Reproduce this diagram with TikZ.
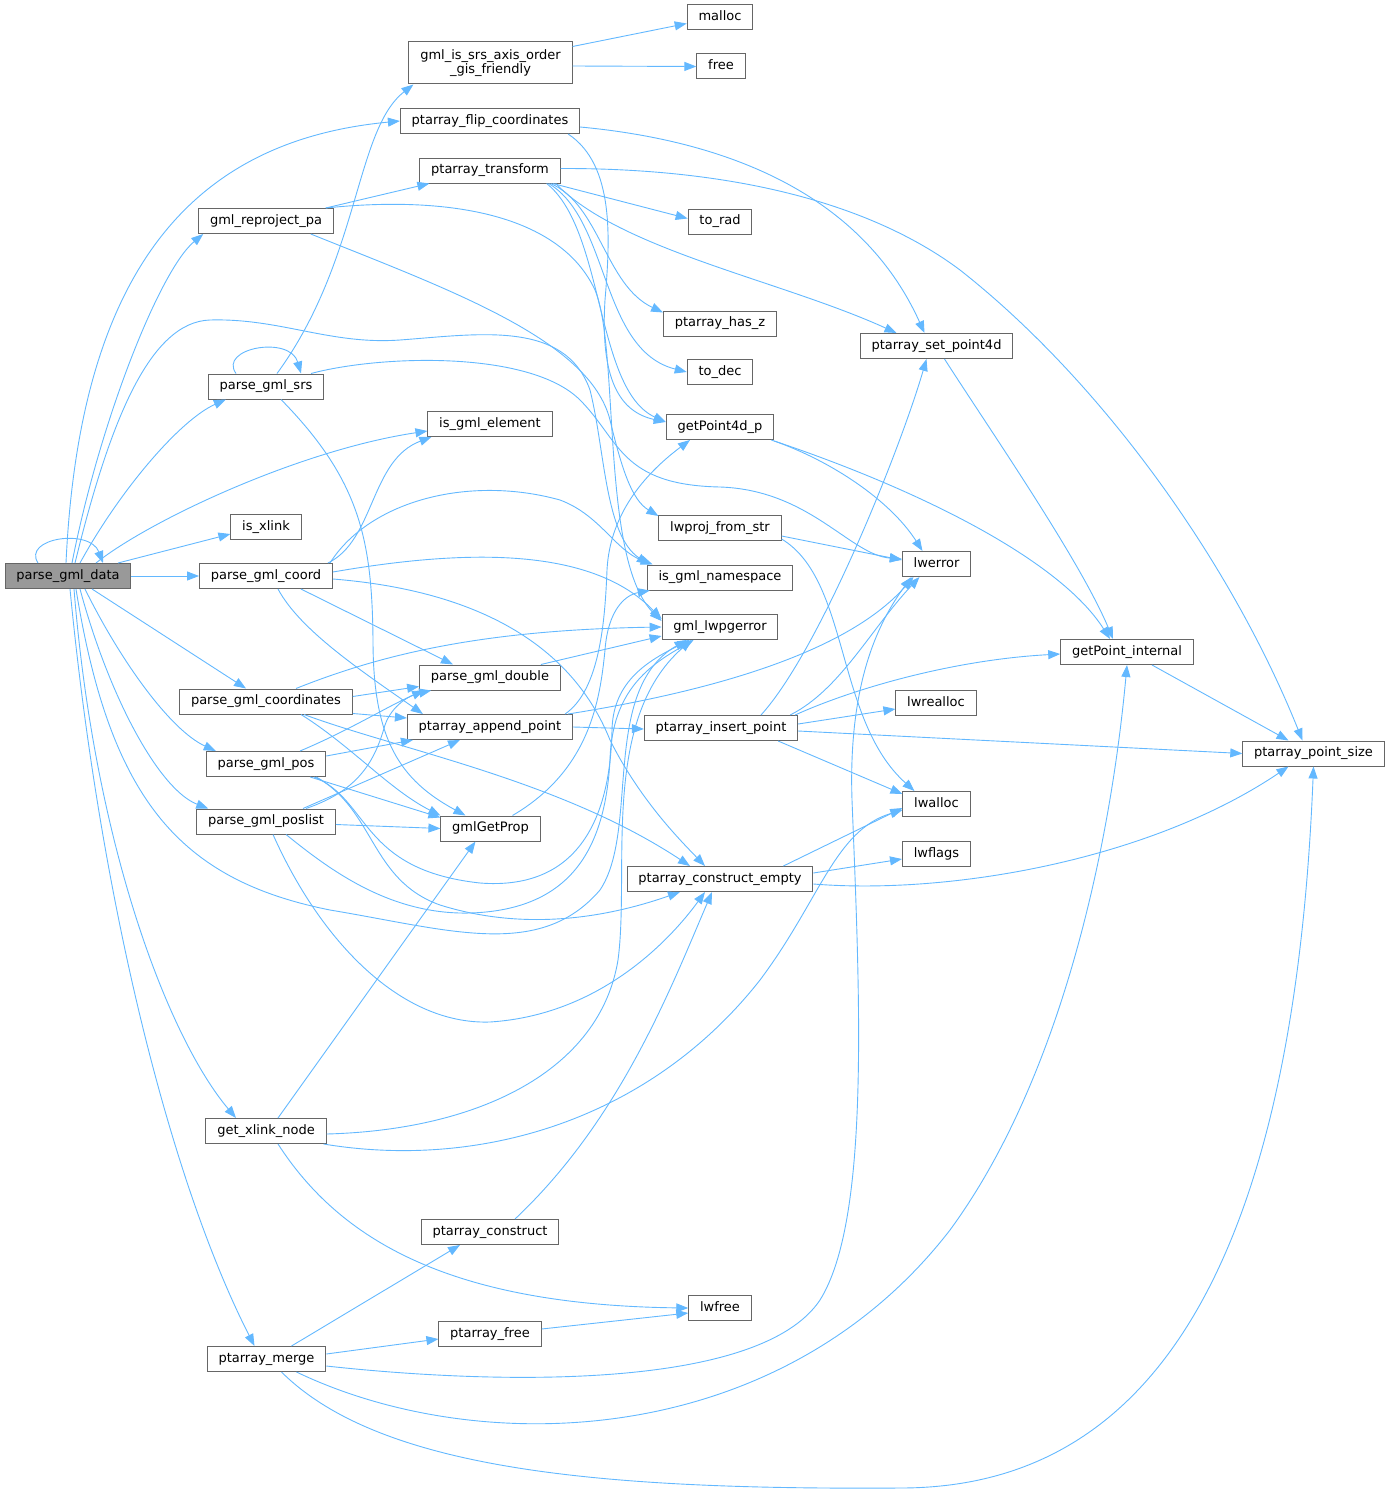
\documentclass[tikz,border=0pt]{standalone}
\usepackage{fontspec}
\setmainfont{DejaVu Sans}
\usetikzlibrary{arrows.meta}
\definecolor{edgeblue}{HTML}{63B8FF}
\definecolor{boxgray}{HTML}{666666}
\definecolor{rootgray}{HTML}{999999}

\begin{document}
\begin{tikzpicture}[x=1pt,y=-1pt,
    fn/.style={draw=boxgray, fill=white, line width=1pt, inner xsep=11.3pt, inner ysep=0pt,
      minimum height=25pt, text height=9.6pt, text depth=3pt, font=\fontsize{13}{14.5}\selectfont},
    rootfn/.style={fn, fill=rootgray},
    call/.style={draw=edgeblue, line width=0.9pt, -{Triangle[length=12pt,width=9pt]}}]
    \useasboundingbox (0,0) rectangle (1391,1493);

    % functions
    \node[rootfn] (pgd) at (68,576) {parse\_gml\_data};
    \node[fn, align=center, minimum height=42pt, text height=24.1pt, text depth=3pt] (gisf) at (490.5,63) {gml\_is\_srs\_axis\_order\\\_gis\_friendly};
    \node[fn] (malloc) at (720,17.5) {malloc};
    \node[fn] (free) at (721,66.5) {free};
    \node[fn] (flip) at (490,121) {ptarray\_flip\_coordinates};
    \node[fn] (ptransf) at (490,170.5) {ptarray\_transform};
    \node[fn] (reproj) at (266,221) {gml\_reproject\_pa};
    \node[fn] (torad) at (720,221.5) {to\_rad};
    \node[fn] (hasz) at (720,323.5) {ptarray\_has\_z};
    \node[fn] (setpt) at (936.5,346) {ptarray\_set\_point4d};
    \node[fn] (srs) at (266,386.5) {parse\_gml\_srs};
    \node[fn] (todec) at (720,372) {to\_dec};
    \node[fn] (isgelem) at (490,424) {is\_gml\_element};
    \node[fn] (getpt4d) at (720,427) {getPoint4d\_p};
    \node[fn] (isxlink) at (266,527) {is\_xlink};
    \node[fn] (lwproj) at (720,528) {lwproj\_from\_str};
    \node[fn] (lwerror) at (936.5,564) {lwerror};
    \node[fn] (coord) at (266,576) {parse\_gml\_coord};
    \node[fn] (isgns) at (720,577.5) {is\_gml\_namespace};
    \node[fn] (gmlerr) at (720,627) {gml\_lwpgerror};
    \node[fn] (getptint) at (1127,652) {getPoint\_internal};
    \node[fn] (pdouble) at (490,677.5) {parse\_gml\_double};
    \node[fn] (coords) at (266,701.5) {parse\_gml\_coordinates};
    \node[fn] (appendpt) at (490,727) {ptarray\_append\_point};
    \node[fn] (insertpt) at (721,728) {ptarray\_insert\_point};
    \node[fn] (lwrealloc) at (936,703) {lwrealloc};
    \node[fn] (ptsize) at (1313.5,753.5) {ptarray\_point\_size};
    \node[fn] (pos) at (266,764) {parse\_gml\_pos};
    \node[fn] (lwalloc) at (936.5,804) {lwalloc};
    \node[fn] (poslist) at (266,821.5) {parse\_gml\_poslist};
    \node[fn] (getprop) at (490.5,828.5) {gmlGetProp};
    \node[fn] (lwflags) at (936.5,854) {lwflags};
    \node[fn] (cempty) at (720,879) {ptarray\_construct\_empty};
    \node[fn] (xlinknode) at (266,1131) {get\_xlink\_node};
    \node[fn] (construct) at (490,1232) {ptarray\_construct};
    \node[fn] (lwfree) at (720,1308) {lwfree};
    \node[fn] (pfree) at (490,1334) {ptarray\_free};
    \node[fn] (merge) at (266.5,1359) {ptarray\_merge};

    % calls of parse_gml_data
    \draw[call] ([xshift=-30pt]pgd.north) .. controls (22,538) and (90,528) .. ([xshift=35pt]pgd.north);
    \draw[call] ([xshift=-2pt]pgd.north) .. controls (80,260) and (200,140) .. (flip.west);
    \draw[call] ([xshift=4pt]pgd.north) .. controls (100,420) and (160,270) .. ([xshift=5pt]reproj.south west);
    \draw[call] ([xshift=7pt]pgd.north) .. controls (110,420) and (150,322) .. (210,320) .. controls (280,318) and (330,345) .. (400,340) .. controls (480,334) and (565,320) .. (590,390) .. controls (605,450) and (605,535) .. ([xshift=2pt]isgns.north west);
    \draw[call] ([xshift=12pt]pgd.north) .. controls (120,490) and (180,420) .. ([xshift=18pt]srs.south west);
    \draw[call] ([xshift=28pt]pgd.north) .. controls (150,520) and (300,450) .. ([yshift=-7pt]isgelem.west);
    \draw[call] ([xshift=50pt]pgd.north) -- ([yshift=-7pt]isxlink.west);
    \draw[call] (pgd.east) -- (coord.west);
    \draw[call] ([xshift=24pt]pgd.south) -- ([xshift=-20pt]coords.north);
    \draw[call] ([xshift=17pt]pgd.south) .. controls (120,660) and (170,730) .. ([xshift=10pt]pos.north west);
    \draw[call] ([xshift=12pt]pgd.south) .. controls (110,700) and (160,790) .. ([xshift=12pt]poslist.north west);
    \draw[call] ([xshift=8pt]pgd.south) .. controls (110,800) and (180,880) .. (330,910) .. controls (450,930) and (540,960) .. (600,890) .. controls (640,830) and (600,690) .. ([xshift=25pt]gmlerr.south west);
    \draw[call] ([xshift=6pt]pgd.south) .. controls (95,850) and (170,1040) .. ([xshift=-30pt]xlinknode.north);
    \draw[call] ([xshift=2pt]pgd.south) .. controls (100,900) and (170,1180) .. ([xshift=-12pt]merge.north);

    % upper part
    \draw[call] ([yshift=-5pt]gisf.north east) -- ([yshift=-6pt]malloc.west);
    \draw[call] ([yshift=-3pt]gisf.east) -- (free.west);
    \draw[call] ([xshift=-30pt]srs.north) .. controls (218,348) and (290,335) .. ([xshift=35pt]srs.north);
    \draw[call] ([xshift=11pt]srs.north) .. controls (360,260) and (355,130) .. ([xshift=5pt]gisf.south west);
    \draw[call] ([xshift=45pt]srs.north) .. controls (380,355) and (530,350) .. (580,400) .. controls (620,440) and (620,485) .. (720,487) .. controls (810,490) and (850,555) .. ([yshift=5pt]lwerror.west);
    \draw[call] ([xshift=15pt]srs.south) .. controls (360,480) and (372,540) .. (373,640) .. controls (373,740) and (400,780) .. ([xshift=-25pt]getprop.north);
    \draw[call] ([yshift=-6pt]flip.east) .. controls (720,140) and (860,190) .. ([xshift=-12pt]setpt.north);
    \draw[call] ([xshift=-12pt]flip.south east) .. controls (615,165) and (610,240) .. (605,300) .. controls (600,380) and (620,412) .. ([yshift=5pt]getpt4d.west);
    \draw[call] ([xshift=-8pt]ptransf.south east) -- ([yshift=3pt]torad.west);
    \draw[call] ([xshift=-10pt]ptransf.south east) .. controls (600,205) and (605,285) .. ([yshift=-2pt]hasz.north west);
    \draw[call] ([xshift=-12pt]ptransf.south east) .. controls (610,220) and (600,350) .. (todec.west);
    \draw[call] ([xshift=-14pt]ptransf.south east) .. controls (605,230) and (595,390) .. ([yshift=5pt]getpt4d.west);
    \draw[call] ([xshift=-5pt]ptransf.south east) .. controls (620,250) and (780,280) .. ([xshift=-40pt]setpt.north);
    \draw[call] ([yshift=2pt]ptransf.east) .. controls (750,168) and (880,210) .. (960,270) .. controls (1100,380) and (1230,560) .. ([xshift=-11pt]ptsize.north);
    \draw[call] ([xshift=-8pt]reproj.north east) -- ([xshift=10pt]ptransf.south west);
    \draw[call] ([xshift=-8pt]reproj.north east) .. controls (450,195) and (560,215) .. (595,290) .. controls (620,350) and (600,560) .. ([yshift=6pt]gmlerr.west);
    \draw[call] ([xshift=-23pt]reproj.south east) .. controls (450,290) and (590,340) .. (610,420) .. controls (622,470) and (632,500) .. ([yshift=-1pt]lwproj.north west);

    % parse_gml_coord
    \draw[call] ([xshift=-5pt]coord.north east) .. controls (375,540) and (370,460) .. ([xshift=4pt]isgelem.south west);
    \draw[call] ([xshift=-3pt]coord.north east) .. controls (370,500) and (470,475) .. (560,500) .. controls (600,515) and (615,550) .. ([xshift=6pt]isgns.north west);
    \draw[call] ([yshift=4pt]coord.east) .. controls (460,550) and (590,545) .. ([yshift=8pt]gmlerr.west);
    \draw[call] ([xshift=-32pt]coord.south east) -- ([xshift=-37pt]pdouble.north);
    \draw[call] ([xshift=12pt]coord.south) .. controls (300,630) and (360,670) .. ([xshift=16pt]appendpt.north west);
    \draw[call] ([yshift=-3pt]coord.east) .. controls (470,590) and (570,640) .. (610,740) .. controls (640,800) and (680,840) .. ([xshift=-15pt]cempty.north);
    \draw[call] ([xshift=-20pt]pdouble.north east) -- ([yshift=-9pt]gmlerr.west);

    % parse_gml_coordinates
    \draw[call] ([yshift=5pt]coords.east) -- ([yshift=-9pt]pdouble.west);
    \draw[call] ([yshift=1pt]coords.south east) -- ([yshift=9pt]appendpt.west);
    \draw[call] ([xshift=30pt]coords.north) .. controls (380,655) and (480,630) .. (gmlerr.west);
    \draw[call] ([xshift=35pt]coords.south) .. controls (350,745) and (390,790) .. (getprop.north west);
    \draw[call] ([xshift=38pt]coords.south) .. controls (400,750) and (560,780) .. ([xshift=-30pt]cempty.north);

    % parse_gml_pos
    \draw[call] ([xshift=34pt]pos.north) .. controls (350,730) and (390,705) .. ([xshift=5pt]pdouble.south west);
    \draw[call] ([yshift=8pt]pos.east) -- ([xshift=6pt]appendpt.south west);
    \draw[call] ([xshift=-16pt]pos.south east) -- ([yshift=-2pt]getprop.north west);
    \draw[call] ([xshift=-12pt]pos.south east) .. controls (370,800) and (360,870) .. (480,883) .. controls (570,890) and (610,830) .. (612,730) .. controls (613,680) and (650,660) .. ([xshift=28pt]gmlerr.south west);
    \draw[call] ([xshift=-10pt]pos.south east) .. controls (375,810) and (370,880) .. (440,905) .. controls (520,930) and (600,920) .. ([xshift=-40pt]cempty.south);

    % parse_gml_poslist
    \draw[call] ([xshift=40pt]poslist.north) .. controls (360,790) and (375,760) .. (385,725) .. controls (392,705) and (410,695) .. ([xshift=12pt]pdouble.south west);
    \draw[call] ([xshift=37pt]poslist.north) -- ([xshift=-30pt]appendpt.south);
    \draw[call] ([yshift=-3pt]poslist.east) -- (getprop.west);
    \draw[call] ([xshift=20pt]poslist.south) .. controls (330,870) and (390,915) .. (470,913) .. controls (570,910) and (605,850) .. (610,760) .. controls (612,690) and (650,665) .. ([xshift=32pt]gmlerr.south west);
    \draw[call] ([xshift=7pt]poslist.south) .. controls (320,940) and (400,1025) .. (490,1022) .. controls (600,1015) and (670,940) .. ([xshift=-15pt]cempty.south);
    \draw[call] ([xshift=22pt]getprop.north) .. controls (590,770) and (600,700) .. (605,650) .. controls (608,610) and (625,595) .. ([xshift=3pt]isgns.south west);

    % point arrays
    \draw[call] ([xshift=-8pt]appendpt.north east) .. controls (600,690) and (605,620) .. (607,570) .. controls (610,510) and (650,470) .. ([xshift=-30pt]getpt4d.south);
    \draw[call] (appendpt.east) -- ([yshift=-1pt]insertpt.west);
    \draw[call] ([xshift=-5pt]appendpt.north east) .. controls (720,690) and (850,650) .. ([xshift=-23pt]lwerror.south);
    \draw[call] ([xshift=40pt]insertpt.north) .. controls (820,650) and (900,450) .. ([xshift=-10pt]setpt.south);
    \draw[call] ([xshift=-8pt]insertpt.north east) .. controls (840,690) and (870,630) .. ([xshift=-17pt]lwerror.south);
    \draw[call] ([xshift=-3pt]insertpt.north east) .. controls (850,690) and (950,660) .. ([yshift=-2pt]getptint.west);
    \draw[call] ([yshift=4pt]insertpt.east) -- ([yshift=-6pt]lwrealloc.west);
    \draw[call] ([yshift=-3pt]insertpt.east) -- (ptsize.west);
    \draw[call] ([xshift=-20pt]insertpt.south east) -- ([yshift=-3pt]lwalloc.north west);
    \draw[call] ([yshift=-8pt]lwproj.east) -- ([yshift=4pt]lwerror.west);
    \draw[call] ([yshift=-11pt]lwproj.east) .. controls (850,580) and (835,720) .. ([xshift=-22pt]lwalloc.north);
    \draw[call] ([xshift=-3pt]getpt4d.south east) .. controls (830,460) and (890,500) .. ([xshift=-14pt]lwerror.north);
    \draw[call] ([yshift=-1pt]getpt4d.south east) .. controls (920,490) and (1060,560) .. ([xshift=-17pt]getptint.north);
    \draw[call] ([xshift=8pt]setpt.south) .. controls (990,430) and (1080,560) .. ([xshift=-14pt]getptint.north);
    \draw[call] ([xshift=25pt]getptint.south) -- ([xshift=-25pt]ptsize.north);
    \draw[call] ([xshift=-30pt]cempty.north east) -- ([yshift=-4pt]lwalloc.west);
    \draw[call] ([yshift=6pt]cempty.east) -- ([yshift=-5pt]lwflags.west);
    \draw[call] ([yshift=-5pt]cempty.east) .. controls (950,895) and (1150,860) .. ([xshift=-25pt]ptsize.south);

    % lower part
    \draw[call] ([xshift=12pt]xlinknode.north) -- ([xshift=-15pt]getprop.south);
    \draw[call] ([yshift=-3pt]xlinknode.east) .. controls (480,1130) and (600,1070) .. (618,960) .. controls (630,870) and (600,720) .. ([xshift=30pt]gmlerr.south west);
    \draw[call] ([xshift=-3pt]xlinknode.south east) .. controls (480,1170) and (650,1120) .. (760,980) .. controls (820,900) and (835,830) .. ([yshift=-6pt]lwalloc.west);
    \draw[call] ([xshift=12pt]xlinknode.south) .. controls (340,1240) and (450,1305) .. (lwfree.west);
    \draw[call] ([xshift=25pt]construct.north) .. controls (620,1120) and (670,990) .. ([xshift=-8pt]cempty.south);
    \draw[call] ([yshift=5pt]pfree.east) -- ([yshift=-5pt]lwfree.west);
    \draw[call] ([xshift=25pt]merge.north) -- ([xshift=-30pt]construct.south);
    \draw[call] ([yshift=5pt]merge.east) -- ([yshift=-5pt]pfree.west);
    \draw[call] ([yshift=-7pt]merge.east) .. controls (500,1385) and (760,1390) .. (820,1300) .. controls (870,1220) and (860,1000) .. (852,800) .. controls (848,680) and (880,620) .. ([xshift=-25pt]lwerror.south);
    \draw[call] ([xshift=30pt]merge.south) .. controls (480,1460) and (780,1450) .. (950,1230) .. controls (1060,1080) and (1110,850) .. (getptint.south);
    \draw[call] ([xshift=15pt]merge.south) .. controls (380,1470) and (600,1490) .. (900,1488) .. controls (1100,1488) and (1290,1350) .. (ptsize.south);
\end{tikzpicture}
\end{document}
